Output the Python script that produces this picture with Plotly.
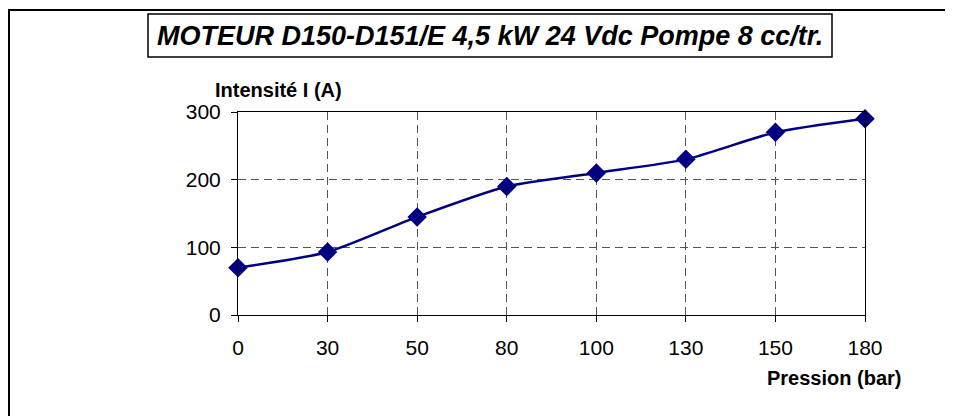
"""Courbe intensité / pression du moteur D150-D151/E."""

import plotly.graph_objects as go

# données
pression_bar = ["0", "30", "50", "80", "100", "130", "150", "180"]
intensite_a = [70, 93, 145, 190, 210, 230, 270, 290]
y_ticks = [0, 100, 200, 300]

# la page ajoute une marge de 8 px : tout est décalé d'autant
OFF = 8
W, H = 953 - OFF, 416 - OFF
L, R, T, B = 238 - OFF, 88, 112 - OFF, 101
PW, PH = W - L - R, H - T - B


def px(x):
    return (x - OFF - L) / PW


def py(y):
    return (H - B - (y - OFF)) / PH


fig = go.Figure()
fig.add_trace(
    go.Scatter(
        x=pression_bar,
        y=intensite_a,
        mode="lines+markers",
        line=dict(color="#000080", width=2.5, shape="spline", smoothing=0.6),
        marker=dict(symbol="diamond", size=15, color="#000080"),
        cliponaxis=False,
        showlegend=False,
    )
)

grid = dict(showgrid=True, gridcolor="#555555", griddash="8px,5px", gridwidth=1)

fig.update_layout(
    width=W,
    height=H,
    margin=dict(l=L, r=R, t=T, b=B),
    paper_bgcolor="white",
    plot_bgcolor="white",
    font=dict(family="Arial, Liberation Sans, sans-serif", color="black", size=21),
    xaxis=dict(
        type="category",
        range=[0, len(pression_bar) - 1],
        showline=True,
        linecolor="black",
        linewidth=1,
        mirror=True,
        ticks="outside",
        ticklen=6,
        tickcolor="black",
        ticklabelstandoff=8,
        zeroline=False,
        **grid,
    ),
    yaxis=dict(
        range=[0, 300],
        tickvals=y_ticks,
        showline=True,
        linecolor="black",
        linewidth=1,
        mirror=True,
        ticks="outside",
        ticklen=6,
        tickcolor="black",
        ticklabelstandoff=6,
        zeroline=False,
        **grid,
    ),
    shapes=[
        # cadre extérieur (bords gauche et haut visibles)
        dict(type="rect", xref="paper", yref="paper",
             x0=px(9), x1=px(W + 40), y0=py(H + 40), y1=py(10),
             line=dict(color="black", width=2), layer="below"),
        # cadre du titre
        dict(type="rect", xref="paper", yref="paper",
             x0=px(148), x1=px(832), y0=py(57), y1=py(14),
             line=dict(color="black", width=1.5), fillcolor="white"),
    ],
    annotations=[
        dict(text="<b><i>MOTEUR D150-D151/E 4,5 kW 24 Vdc Pompe 8 cc/tr.</i></b>",
             xref="paper", yref="paper", x=px(490), y=py(36),
             xanchor="center", yanchor="middle", showarrow=False,
             font=dict(size=27)),
        dict(text="<b>Intensité I (A)</b>", xref="paper", yref="paper",
             x=px(278), y=py(90), xanchor="center", yanchor="middle",
             showarrow=False, font=dict(size=20)),
        dict(text="<b>Pression (bar)</b>", xref="paper", yref="paper",
             x=px(834), y=py(378), xanchor="center", yanchor="middle",
             showarrow=False, font=dict(size=20)),
    ],
)

fig.write_html("out.html")
